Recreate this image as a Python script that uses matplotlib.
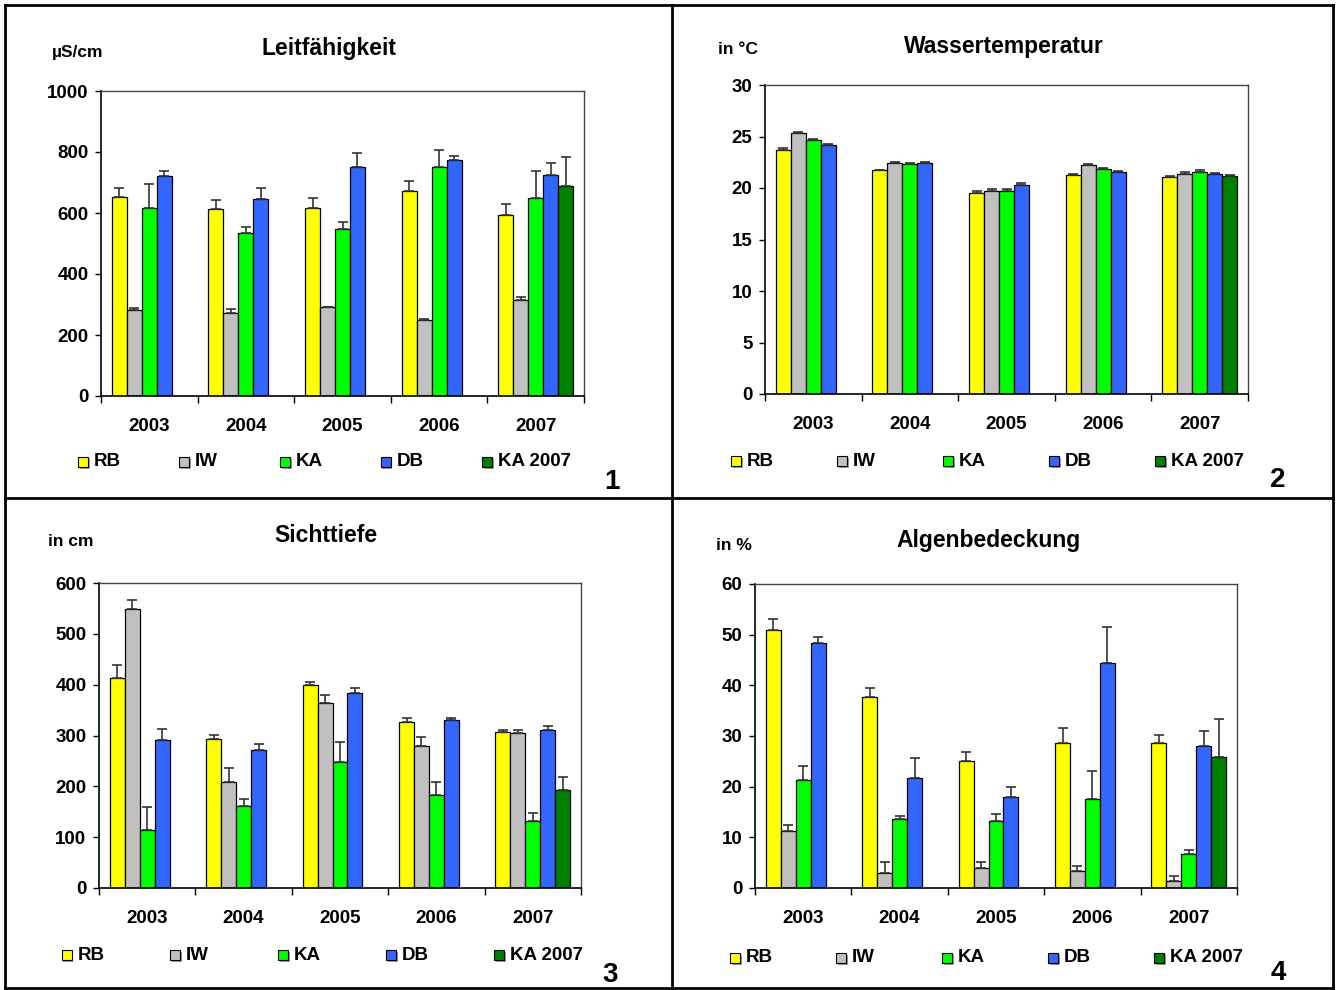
import numpy as np
import matplotlib
matplotlib.use('Agg')
import matplotlib.pyplot as plt
from matplotlib.patches import Rectangle
from matplotlib.lines import Line2D

plt.rcParams['font.family'] = ['Liberation Sans', 'DejaVu Sans']
plt.rcParams['font.weight'] = 'bold'

years = ['2003', '2004', '2005', '2006', '2007']
series = ['RB', 'IW', 'KA', 'DB', 'KA 2007']
colors = ['#FFFF00', '#C0C0C0', '#00FF00', '#3366FF', '#008000']
nan = np.nan

# Leitfaehigkeit (uS/cm): rows = RB, IW, KA, DB, KA 2007
leit_mean = [[651, 612, 617, 671, 592],
             [281, 271, 291, 250, 314],
             [617, 533, 546, 750, 648],
             [720, 645, 750, 775, 723],
             [nan, nan, nan, nan, 689]]
leit_sd = [[32, 29, 32, 33, 36],
           [9, 15, 2, 4, 12],
           [79, 22, 24, 57, 91],
           [19, 38, 46, 11, 41],
           [nan, nan, nan, nan, 94]]

# Wassertemperatur (degC)
temp_mean = [[23.7, 21.7, 19.55, 21.25, 21.1],
             [25.35, 22.45, 19.75, 22.2, 21.35],
             [24.65, 22.35, 19.75, 21.85, 21.55],
             [24.2, 22.45, 20.3, 21.6, 21.4],
             [nan, nan, nan, nan, 21.17]]
temp_sd = [[0.15, 0.07, 0.15, 0.15, 0.07],
           [0.1, 0.12, 0.15, 0.12, 0.2],
           [0.1, 0.1, 0.15, 0.05, 0.2],
           [0.05, 0.12, 0.2, 0.06, 0.07],
           [nan, nan, nan, nan, 0.1]]

# Sichttiefe (cm)
sicht_mean = [[414, 293, 400, 327, 306],
              [549, 209, 363, 279, 304],
              [115, 162, 247, 183, 132],
              [292, 272, 383, 331, 310],
              [nan, nan, nan, nan, 192]]
sicht_sd = [[24, 8, 5, 7, 4],
            [18, 28, 16, 19, 6],
            [44, 14, 40, 26, 16],
            [21, 12, 10, 3, 9],
            [nan, nan, nan, nan, 26]]

# Algenbedeckung (%)
algen_mean = [[51.0, 37.6, 25.0, 28.6, 28.6],
              [11.2, 3.0, 3.9, 3.3, 1.3],
              [21.3, 13.6, 13.2, 17.5, 6.8],
              [48.4, 21.7, 17.9, 44.4, 28.1],
              [nan, nan, nan, nan, 25.8]]
algen_sd = [[2.1, 1.9, 1.9, 2.9, 1.5],
            [1.3, 2.1, 1.3, 1.0, 1.1],
            [2.7, 0.7, 1.4, 5.6, 0.7],
            [1.2, 3.9, 2.1, 7.1, 2.8],
            [nan, nan, nan, nan, 7.6]]

W, H = 1337, 990
fig = plt.figure(figsize=(W / 100, H / 100), dpi=100)


def fx(x):
    return x / W


def fy(y):
    return 1 - y / H


def add_panel(box, mean, sd, ymax, ystep, title, unit, title_xy, unit_xy,
              leg_x, leg_y, num, num_xy):
    x0, y0, x1, y1 = box
    ax = fig.add_axes([fx(x0), fy(y1), (x1 - x0) / W, (y1 - y0) / H])
    x = np.arange(len(years))
    w = 0.155
    for i in range(len(series)):
        m = np.array(mean[i], dtype=float)
        e = np.array(sd[i], dtype=float)
        pos = x + (i - 2) * w
        ok = ~np.isnan(m)
        ax.bar(pos[ok], m[ok], width=w, color=colors[i], edgecolor='black',
               linewidth=0.9, zorder=2)
        ax.errorbar(pos[ok], m[ok], yerr=[np.zeros(ok.sum()), e[ok]],
                    fmt='none', ecolor='#333333', elinewidth=1.2,
                    capsize=3.5, capthick=1.2, zorder=3)
    ax.set_xlim(-0.5, len(years) - 0.5)
    ax.set_ylim(0, ymax)
    ax.set_yticks(np.arange(0, ymax + ystep / 2, ystep))
    ax.set_xticks(x)
    ax.set_xticklabels(years)
    ax.set_xticks(np.arange(-0.5, len(years)), minor=True)
    ax.tick_params(axis='x', which='major', length=0, pad=16, labelsize=13.5)
    ax.tick_params(axis='x', which='minor', length=5, width=1, direction='out')
    ax.tick_params(axis='y', length=4, width=1, direction='out', pad=5,
                   labelsize=13.5)
    for lab in ax.get_xticklabels() + ax.get_yticklabels():
        lab.set_fontweight('bold')
    for s in ['left', 'bottom']:
        ax.spines[s].set_linewidth(1.2)
    for s in ['top', 'right']:
        ax.spines[s].set_color('#444444')
        ax.spines[s].set_linewidth(1)

    fig.text(fx(title_xy[0]), fy(title_xy[1]), title, ha='center',
             va='center', fontsize=16.5, fontweight='bold')
    fig.text(fx(unit_xy[0]), fy(unit_xy[1]), unit, ha='left', va='center',
             fontsize=12.5, fontweight='bold')

    step = (leg_x[1] - leg_x[0])
    for i, name in enumerate(series):
        sx = leg_x[0] + i * step
        fig.add_artist(Rectangle((fx(sx + 1.5), fy(leg_y + 6.5)), 10 / W,
                                 10 / H, transform=fig.transFigure,
                                 facecolor='#999999', edgecolor='none'))
        fig.add_artist(Rectangle((fx(sx), fy(leg_y + 5)), 10 / W, 10 / H,
                                 transform=fig.transFigure,
                                 facecolor=colors[i], edgecolor='black',
                                 linewidth=0.8))
        fig.text(fx(sx + 16), fy(leg_y), name, ha='left', va='center',
                 fontsize=13.5, fontweight='bold')
    fig.text(fx(num_xy[0]), fy(num_xy[1]), num, ha='center', va='center',
             fontsize=20, fontweight='bold')
    return ax


add_panel((101, 91, 584, 396), leit_mean, leit_sd, 1000, 200,
          'Leitfähigkeit', 'µS/cm', (329, 48), (52, 52),
          (78, 179), 462, '1', (612, 482))
add_panel((765, 85, 1248, 394), temp_mean, temp_sd, 30, 5,
          'Wassertemperatur', 'in °C', (1004, 47), (718, 50),
          (731, 837), 461, '2', (1278, 480))
add_panel((99, 583, 581, 888), sicht_mean, sicht_sd, 600, 100,
          'Sichttiefe', 'in cm', (326, 535), (48, 542),
          (62, 170), 955, '3', (610, 975))
add_panel((755, 584, 1237, 888), algen_mean, algen_sd, 60, 10,
          'Algenbedeckung', 'in %', (989, 541), (716, 545),
          (730, 836), 958, '4', (1278, 973))

# panel frame lines
frame = [((5, 5), (1333, 5)), ((5, 5), (5, 988)), ((1333, 5), (1333, 988)),
         ((5, 988), (1333, 988)), ((672, 5), (672, 988)),
         ((5, 498), (1333, 498))]
for (ax_, ay_), (bx_, by_) in frame:
    fig.add_artist(Line2D([fx(ax_), fx(bx_)], [fy(ay_), fy(by_)],
                          transform=fig.transFigure, color='black',
                          linewidth=2))

fig.savefig('out.png', dpi=100)
